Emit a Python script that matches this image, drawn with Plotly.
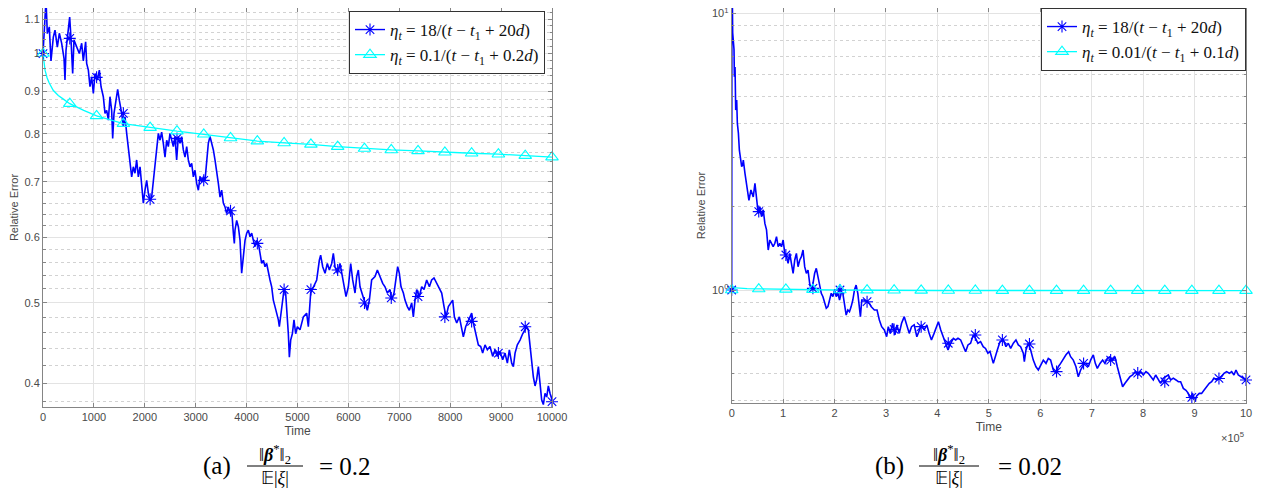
import plotly.graph_objects as go

# The page body adds an 8px margin; the figure is sized so that the whole page fits the 1261x496 window.
PAGE_OFF = 8
W, H = 1261 - 2 * PAGE_OFF, 496 - 2 * PAGE_OFF

# ---------------- panel (a): ||beta*||/E|xi| = 0.2 ----------------
blue_a_points = [
    (0, 1.0), (39, 1.097), (59, 1.16), (85, 1.057), (124, 1.077), (157, 0.98), (203, 1.047), (236, 1.067),
    (282, 1.018), (321, 1.058), (367, 1.029), (413, 0.987), (432, 0.929), (452, 1.009), (498, 1.077),
    (524, 1.107), (544, 1.058), (583, 0.946), (609, 1.038), (661, 1.018), (714, 1.0), (760, 1.029),
    (792, 0.98), (838, 1.033), (858, 0.973), (891, 0.955), (923, 0.912), (956, 0.937), (989, 0.895),
    (1022, 0.946), (1067, 0.929), (1107, 0.955), (1140, 0.912), (1185, 0.887), (1218, 0.847), (1251, 0.854),
    (1284, 0.831), (1316, 0.887), (1349, 0.854), (1369, 0.79), (1395, 0.847), (1434, 0.878), (1467, 0.905),
    (1500, 0.878), (1546, 0.847), (1578, 0.816), (1611, 0.839), (1644, 0.801), (1676, 0.772), (1709, 0.744),
    (1742, 0.71), (1775, 0.73), (1807, 0.717), (1840, 0.744), (1873, 0.71), (1906, 0.73), (1938, 0.69),
    (1971, 0.66), (2004, 0.684), (2037, 0.703), (2070, 0.678), (2102, 0.665), (2135, 0.671), (2168, 0.703),
    (2200, 0.73), (2233, 0.772), (2266, 0.801), (2299, 0.786), (2331, 0.804), (2364, 0.779), (2397, 0.75),
    (2430, 0.786), (2462, 0.772), (2495, 0.801), (2528, 0.786), (2561, 0.772), (2593, 0.794), (2626, 0.744),
    (2659, 0.794), (2692, 0.779), (2724, 0.794), (2757, 0.765), (2790, 0.75), (2823, 0.772), (2855, 0.744),
    (2888, 0.73), (2921, 0.737), (2954, 0.71), (2986, 0.723), (3019, 0.697), (3052, 0.684), (3085, 0.71),
    (3117, 0.7), (3150, 0.71), (3183, 0.703), (3216, 0.744), (3248, 0.779), (3281, 0.794), (3314, 0.779),
    (3347, 0.765), (3379, 0.744), (3412, 0.723), (3445, 0.697), (3478, 0.671), (3510, 0.684), (3543, 0.66),
    (3576, 0.653), (3609, 0.641), (3641, 0.653), (3674, 0.641), (3707, 0.647), (3740, 0.607), (3759, 0.59),
    (3772, 0.612), (3805, 0.629), (3838, 0.618), (3871, 0.595), (3903, 0.543), (3936, 0.574), (3969, 0.595),
    (4002, 0.607), (4034, 0.612), (4067, 0.601), (4100, 0.607), (4133, 0.595), (4165, 0.585), (4198, 0.595),
    (4231, 0.59), (4264, 0.574), (4296, 0.558), (4329, 0.563), (4362, 0.553), (4394, 0.558), (4427, 0.543),
    (4460, 0.533), (4493, 0.523), (4525, 0.504), (4558, 0.495), (4591, 0.486), (4624, 0.477), (4643, 0.468),
    (4669, 0.481), (4702, 0.5), (4735, 0.519), (4767, 0.514), (4800, 0.486), (4820, 0.459), (4840, 0.43),
    (4866, 0.451), (4899, 0.459), (4931, 0.477), (4964, 0.459), (4997, 0.468), (5049, 0.464), (5115, 0.481),
    (5180, 0.486), (5213, 0.468), (5259, 0.514), (5311, 0.523), (5377, 0.533), (5429, 0.563), (5455, 0.571),
    (5495, 0.553), (5541, 0.543), (5586, 0.558), (5626, 0.548), (5672, 0.558), (5704, 0.574), (5737, 0.553),
    (5783, 0.543), (5835, 0.558), (5868, 0.543), (5914, 0.528), (5953, 0.509), (5999, 0.523), (6045, 0.558),
    (6084, 0.533), (6130, 0.514), (6163, 0.538), (6195, 0.548), (6228, 0.523), (6281, 0.509), (6327, 0.5),
    (6372, 0.49), (6412, 0.504), (6457, 0.533), (6523, 0.538), (6569, 0.548), (6621, 0.538), (6674, 0.528),
    (6719, 0.523), (6765, 0.514), (6818, 0.519), (6850, 0.504), (6896, 0.514), (6936, 0.538), (6968, 0.553),
    (7001, 0.543), (7034, 0.523), (7080, 0.514), (7112, 0.504), (7158, 0.495), (7198, 0.49), (7243, 0.5),
    (7276, 0.481), (7309, 0.504), (7342, 0.519), (7394, 0.509), (7440, 0.523), (7486, 0.519), (7538, 0.533),
    (7591, 0.523), (7636, 0.533), (7682, 0.536), (7735, 0.528), (7787, 0.519), (7833, 0.514), (7879, 0.495),
    (7918, 0.481), (7964, 0.495), (8010, 0.5), (8049, 0.504), (8082, 0.481), (8128, 0.473), (8180, 0.481),
    (8226, 0.464), (8258, 0.455), (8304, 0.468), (8357, 0.477), (8422, 0.486), (8455, 0.473), (8507, 0.459),
    (8553, 0.445), (8599, 0.443), (8638, 0.435), (8684, 0.445), (8730, 0.439), (8782, 0.443), (8835, 0.431),
    (8881, 0.439), (8926, 0.431), (8979, 0.437), (9031, 0.427), (9077, 0.435), (9123, 0.423), (9162, 0.439),
    (9208, 0.423), (9241, 0.419), (9274, 0.435), (9319, 0.445), (9372, 0.451), (9424, 0.459), (9470, 0.464),
    (9503, 0.468), (9536, 0.464), (9568, 0.443), (9601, 0.427), (9634, 0.407), (9667, 0.397), (9699, 0.404),
    (9732, 0.419), (9765, 0.4), (9797, 0.382), (9830, 0.377), (9863, 0.389), (9896, 0.385), (9928, 0.397),
    (9961, 0.389), (10000, 0.382),
]
cyan_a_points = [
    (0, 1.0), (15, 0.975), (40, 0.955), (80, 0.935), (120, 0.922), (200, 0.903), (300, 0.89), (400, 0.881),
    (526, 0.870), (800, 0.854), (1053, 0.841), (1579, 0.823), (2105, 0.814), (2632, 0.806), (3158, 0.799),
    (3684, 0.791), (4211, 0.784), (4737, 0.780), (5263, 0.777), (5789, 0.772), (6316, 0.768), (6842, 0.765),
    (7368, 0.763), (7895, 0.760), (8421, 0.758), (8947, 0.756), (9474, 0.753), (10000, 0.750),
]
mark_time_a = [0, 526, 1053, 1579, 2105, 2632, 3158, 3684, 4211, 4737,
               5263, 5789, 6316, 6842, 7368, 7895, 8421, 8947, 9474, 10000]
mark_blue_a = [1.0, 1.043, 0.936, 0.847, 0.667, 0.79, 0.703, 0.646, 0.59, 0.519,
               0.519, 0.548, 0.5, 0.507, 0.509, 0.481, 0.475, 0.435, 0.468, 0.38]
mark_cyan_a = [1.0, 0.870, 0.841, 0.823, 0.814, 0.806, 0.799, 0.791, 0.784, 0.780,
               0.777, 0.772, 0.768, 0.765, 0.763, 0.760, 0.758, 0.756, 0.753, 0.750]
legend_a = ["<i>η<sub>t</sub></i> = 18/(<i>t</i> − <i>t</i><sub>1</sub> + 20<i>d</i>)",
            "<i>η<sub>t</sub></i> = 0.1/(<i>t</i> − <i>t</i><sub>1</sub> + 0.2<i>d</i>)"]
xticks_a = [0, 1000, 2000, 3000, 4000, 5000, 6000, 7000, 8000, 9000, 10000]
xticktext_a = ["0", "1000", "2000", "3000", "4000", "5000", "6000", "7000", "8000", "9000", "10000"]
yticks_a = [0.4, 0.5, 0.6, 0.7, 0.8, 0.9, 1.0, 1.1]
yticktext_a = ["0.4", "0.5", "0.6", "0.7", "0.8", "0.9", "1", "1.1"]
yminor_a = [0.38, 0.42, 0.44, 0.46, 0.48, 0.52, 0.54, 0.56, 0.58, 0.62, 0.64, 0.66, 0.68,
            0.72, 0.74, 0.76, 0.78, 0.82, 0.84, 0.86, 0.88, 0.92, 0.94, 0.96, 0.98,
            1.02, 1.04, 1.06, 1.08, 1.12, 1.14]

# ---------------- panel (b): ||beta*||/E|xi| = 0.02 (time in units of 1e5) ----------------
blue_b_points = [
    (0, 1.0), (0.004, 16.0), (0.019, 8.5), (0.045, 7.4), (0.052, 5.9), (0.065, 6.4), (0.078, 4.47),
    (0.097, 4.86), (0.11, 4.0), (0.13, 3.69), (0.149, 3.2), (0.175, 2.95), (0.194, 2.79), (0.214, 2.85),
    (0.226, 2.95), (0.258, 2.64), (0.29, 2.43), (0.335, 2.11), (0.374, 2.30), (0.419, 2.17), (0.452, 2.43),
    (0.484, 2.11), (0.516, 1.89), (0.548, 2.0), (0.58, 1.84), (0.613, 1.95), (0.645, 1.74), (0.677, 1.65),
    (0.71, 1.395), (0.742, 1.516), (0.774, 1.475), (0.806, 1.434), (0.839, 1.475), (0.871, 1.558),
    (0.903, 1.434), (0.935, 1.475), (0.968, 1.434), (1.0, 1.516), (1.032, 1.357), (1.065, 1.32),
    (1.097, 1.249), (1.129, 1.357), (1.161, 1.249), (1.194, 1.149), (1.226, 1.284), (1.258, 1.357),
    (1.29, 1.214), (1.323, 1.284), (1.355, 1.32), (1.387, 1.395), (1.419, 1.214), (1.452, 1.149),
    (1.484, 1.181), (1.516, 1.057), (1.548, 1.0), (1.581, 1.057), (1.613, 1.149), (1.645, 1.198),
    (1.677, 1.117), (1.71, 1.028), (1.742, 0.973), (1.774, 0.946), (1.806, 0.907), (1.839, 0.859),
    (1.871, 0.871), (1.903, 0.920), (1.935, 0.973), (1.968, 0.946), (2.0, 1.0), (2.032, 0.946),
    (2.065, 0.973), (2.097, 0.920), (2.129, 0.973), (2.161, 0.973), (2.194, 0.871), (2.226, 0.812),
    (2.258, 0.847), (2.29, 0.835), (2.323, 0.871), (2.355, 0.920), (2.387, 1.0), (2.419, 1.042),
    (2.452, 0.973), (2.484, 0.871), (2.503, 0.801), (2.529, 0.920), (2.58, 0.920), (2.632, 0.907),
    (2.677, 0.895), (2.71, 0.871), (2.774, 0.847), (2.826, 0.847), (2.871, 0.779), (2.916, 0.737),
    (2.968, 0.717), (3.013, 0.678), (3.045, 0.737), (3.084, 0.697), (3.129, 0.758), (3.174, 0.688),
    (3.213, 0.748), (3.258, 0.697), (3.303, 0.758), (3.355, 0.801), (3.4, 0.748), (3.452, 0.697),
    (3.497, 0.737), (3.548, 0.748), (3.6, 0.678), (3.645, 0.717), (3.69, 0.748), (3.742, 0.717),
    (3.794, 0.748), (3.839, 0.697), (3.884, 0.660), (3.935, 0.697), (3.987, 0.737), (4.019, 0.768),
    (4.065, 0.717), (4.116, 0.678), (4.161, 0.642), (4.206, 0.607), (4.258, 0.642), (4.31, 0.669),
    (4.355, 0.660), (4.4, 0.669), (4.452, 0.660), (4.503, 0.624), (4.548, 0.598), (4.594, 0.633),
    (4.645, 0.642), (4.697, 0.688), (4.742, 0.669), (4.787, 0.642), (4.839, 0.651), (4.89, 0.624),
    (4.935, 0.615), (4.981, 0.591), (5.022, 0.60), (5.087, 0.543), (5.119, 0.574), (5.165, 0.607),
    (5.216, 0.650), (5.281, 0.660), (5.333, 0.624), (5.378, 0.642), (5.424, 0.615), (5.476, 0.642),
    (5.527, 0.660), (5.573, 0.633), (5.618, 0.624), (5.67, 0.591), (5.69, 0.551), (5.722, 0.607),
    (5.767, 0.642), (5.813, 0.607), (5.864, 0.558), (5.916, 0.528), (5.962, 0.514), (6.007, 0.535),
    (6.059, 0.558), (6.111, 0.543), (6.156, 0.566), (6.201, 0.558), (6.253, 0.514), (6.305, 0.501),
    (6.35, 0.528), (6.396, 0.543), (6.448, 0.566), (6.5, 0.583), (6.551, 0.598), (6.59, 0.574),
    (6.642, 0.558), (6.694, 0.528), (6.739, 0.486), (6.785, 0.514), (6.837, 0.535), (6.888, 0.543),
    (6.934, 0.528), (6.979, 0.558), (7.031, 0.583), (7.07, 0.543), (7.109, 0.521), (7.161, 0.543),
    (7.212, 0.558), (7.258, 0.543), (7.303, 0.566), (7.355, 0.574), (7.407, 0.558), (7.452, 0.574),
    (7.498, 0.528), (7.549, 0.486), (7.601, 0.447), (7.647, 0.460), (7.692, 0.473), (7.744, 0.486),
    (7.796, 0.493), (7.848, 0.507), (7.899, 0.493), (7.951, 0.507), (8.003, 0.493), (8.055, 0.507),
    (8.1, 0.500), (8.146, 0.486), (8.198, 0.473), (8.243, 0.493), (8.295, 0.473), (8.34, 0.460),
    (8.392, 0.480), (8.444, 0.486), (8.489, 0.493), (8.535, 0.473), (8.586, 0.480), (8.638, 0.473),
    (8.684, 0.466), (8.729, 0.466), (8.781, 0.441), (8.833, 0.434), (8.878, 0.423), (8.91, 0.406),
    (8.962, 0.423), (9.008, 0.395), (9.04, 0.414), (9.092, 0.423), (9.137, 0.423), (9.183, 0.434),
    (9.235, 0.447), (9.286, 0.460), (9.332, 0.466), (9.377, 0.480), (9.429, 0.473), (9.481, 0.480),
    (9.526, 0.486), (9.572, 0.500), (9.623, 0.507), (9.675, 0.500), (9.721, 0.507), (9.766, 0.493),
    (9.805, 0.514), (9.85, 0.493), (9.896, 0.486), (9.947, 0.480), (10.0, 0.473),
]
cyan_b_points = [
    (0, 1.0), (0.02, 1.02), (0.3, 1.012), (1.0, 1.005), (2.0, 1.0), (4.0, 0.996), (10.0, 0.995),
]
mark_time_b = [0, 0.526, 1.053, 1.579, 2.105, 2.632, 3.158, 3.684, 4.211, 4.737,
               5.263, 5.789, 6.316, 6.842, 7.368, 7.895, 8.421, 8.947, 9.474, 10.0]
mark_blue_b = [1.0, 1.92, 1.338, 1.014, 1.0, 0.907, 0.72, 0.737, 0.642, 0.688,
               0.660, 0.638, 0.507, 0.543, 0.558, 0.501, 0.466, 0.409, 0.479, 0.473]
mark_cyan_b = [1.0, 1.008, 1.005, 1.003, 1.0, 0.999, 0.998, 0.997, 0.996, 0.996,
               0.995, 0.995, 0.995, 0.995, 0.995, 0.995, 0.995, 0.995, 0.995, 0.995]
legend_b = ["<i>η<sub>t</sub></i> = 18/(<i>t</i> − <i>t</i><sub>1</sub> + 20<i>d</i>)",
            "<i>η<sub>t</sub></i> = 0.01/(<i>t</i> − <i>t</i><sub>1</sub> + 0.1<i>d</i>)"]
xticks_b = [0, 1, 2, 3, 4, 5, 6, 7, 8, 9, 10]
yticks_b = [1, 10]
yticktext_b = ["10<sup>0</sup>", "10<sup>1</sup>"]
yminor_b = [0.4, 0.5, 0.6, 0.7, 0.8, 0.9, 2, 3, 4, 5, 6, 7, 8, 9]

BLUE = "rgb(0,0,255)"
CYAN = "rgb(0,255,255)"
AXC = "#858585"
TXT = "#4a4a4a"
GRID = "#e3e3e3"
MGRID = "#d2d2d2"
SANS = "Liberation Sans, Arial, sans-serif"
SERIF = "Liberation Serif, Times New Roman, serif"


def px(x):
    """window pixel x -> paper fraction"""
    return (x - PAGE_OFF) / W


def py(y):
    """window pixel y -> paper fraction (clamped to the figure)"""
    return min(1.0, max(0.0, 1 - (y - PAGE_OFF) / H))


fig = go.Figure()


def add_panel(xa, ya, leg, blue_pts, cyan_pts, mt, mb, mc, labels):
    bx, by = zip(*blue_pts)
    cx, cy = zip(*cyan_pts)
    common = dict(xaxis=xa, yaxis=ya)
    fig.add_trace(go.Scatter(x=bx, y=by, mode="lines", line=dict(color=BLUE, width=1.6),
                             showlegend=False, hoverinfo="skip", **common))
    fig.add_trace(go.Scatter(x=cx, y=cy, mode="lines", line=dict(color=CYAN, width=1.3),
                             showlegend=False, hoverinfo="skip", **common))
    fig.add_trace(go.Scatter(x=mt, y=mb, mode="markers", cliponaxis=False,
                             marker=dict(symbol="asterisk-open", size=10, color=BLUE,
                                         line=dict(color=BLUE, width=1.1)),
                             showlegend=False, **common))
    fig.add_trace(go.Scatter(x=mt, y=mc, mode="markers", cliponaxis=False,
                             marker=dict(symbol="triangle-up-open", size=11, color=CYAN,
                                         line=dict(color=CYAN, width=1.1)),
                             showlegend=False, **common))
    # legend entries
    fig.add_trace(go.Scatter(x=[None], y=[None], mode="lines+markers", name=labels[0], legend=leg,
                             line=dict(color=BLUE, width=1.4),
                             marker=dict(symbol="asterisk-open", size=10, color=BLUE,
                                         line=dict(color=BLUE, width=1.1)), **common))
    fig.add_trace(go.Scatter(x=[None], y=[None], mode="lines+markers", name=labels[1], legend=leg,
                             line=dict(color=CYAN, width=1.3),
                             marker=dict(symbol="triangle-up-open", size=11, color=CYAN,
                                         line=dict(color=CYAN, width=1.1)), **common))


add_panel("x", "y", "legend", blue_a_points, cyan_a_points, mark_time_a, mark_blue_a, mark_cyan_a, legend_a)
add_panel("x2", "y2", "legend2", blue_b_points, cyan_b_points, mark_time_b, mark_blue_b, mark_cyan_b, legend_b)

axis_common = dict(showline=True, linecolor=AXC, linewidth=1, mirror="ticks", ticks="inside",
                   ticklen=4, tickcolor=AXC, showgrid=True, gridcolor=GRID, gridwidth=1, zeroline=False,
                   automargin=False, ticklabeloverflow="allow",
                   tickfont=dict(family=SANS, size=11, color=TXT))

fig.update_layout(
    width=W, height=H, margin=dict(l=0, r=0, t=0, b=0, autoexpand=False),
    paper_bgcolor="white", plot_bgcolor="white",
    xaxis=dict(domain=[px(43), px(552)], range=[0, 10000], tickmode="array", tickvals=xticks_a,
               ticktext=xticktext_a,
               title=dict(text="Time", font=dict(family=SANS, size=12, color=TXT), standoff=4),
               anchor="y", **axis_common),
    yaxis=dict(domain=[py(407), 1.0], type="log", range=[-0.4266, 0.0550], tickmode="array",
               tickvals=yticks_a, ticktext=yticktext_a,
               minor=dict(tickmode="array", tickvals=yminor_a, ticks="inside", ticklen=2.5,
                          tickcolor=AXC, showgrid=True, gridcolor=MGRID, griddash="dot"),
               title=dict(text="Relative Error", font=dict(family=SANS, size=11, color=TXT), standoff=6),
               anchor="x", **axis_common),
    xaxis2=dict(domain=[px(731.7), px(1246)], range=[0, 10], tickmode="array", tickvals=xticks_b,
                title=dict(text="Time", font=dict(family=SANS, size=12, color=TXT), standoff=4),
                anchor="y2", **axis_common),
    yaxis2=dict(domain=[py(403), 1.0], type="log", range=[-0.4084, 1.0192], tickmode="array",
                tickvals=yticks_b, ticktext=yticktext_b,
                minor=dict(tickmode="array", tickvals=yminor_b, ticks="inside", ticklen=2.5,
                           tickcolor=AXC, showgrid=True, gridcolor=MGRID, griddash="dot"),
                title=dict(text="Relative Error", font=dict(family=SANS, size=11, color=TXT), standoff=4),
                anchor="x2", **axis_common),
    legend=dict(x=px(545), y=py(11), xanchor="right", yanchor="top", bgcolor="white",
                bordercolor="#333333", borderwidth=1, font=dict(family=SERIF, size=17, color="#111111"),
                itemwidth=30, tracegroupgap=0),
    legend2=dict(x=px(1246), y=py(8), xanchor="right", yanchor="top", bgcolor="white",
                 bordercolor="#333333", borderwidth=1, font=dict(family=SERIF, size=17, color="#111111"),
                 itemwidth=30, tracegroupgap=0),
)

ann = []
shapes = []


def caption(label, cx_label, cx_frac, frac_half, cx_eq, eq_text):
    ann.append(dict(text=label, x=px(cx_label), y=py(466), xref="paper", yref="paper", showarrow=False,
                    font=dict(family=SERIF, size=25, color="black"), xanchor="center", yanchor="middle"))
    ann.append(dict(text="‖<b><i>β</i></b><sup>*</sup>‖<sub>2</sub>", x=px(cx_frac), y=py(454),
                    xref="paper", yref="paper", showarrow=False,
                    font=dict(family=SERIF, size=18, color="black"), xanchor="center", yanchor="middle"))
    ann.append(dict(text="𝔼|<i>ξ</i>|", x=px(cx_frac), y=py(478), xref="paper", yref="paper",
                    showarrow=False, font=dict(family=SERIF, size=18, color="black"),
                    xanchor="center", yanchor="middle"))
    ann.append(dict(text=eq_text, x=px(cx_eq), y=py(466), xref="paper", yref="paper", showarrow=False,
                    font=dict(family=SERIF, size=25, color="black"), xanchor="center", yanchor="middle"))
    shapes.append(dict(type="line", xref="paper", yref="paper", x0=px(cx_frac - frac_half),
                       x1=px(cx_frac + frac_half), y0=py(466), y1=py(466),
                       line=dict(color="black", width=1)))


caption("(a)", 217, 275, 28, 345, "= 0.2")
caption("(b)", 889, 949, 30, 1030, "= 0.02")

ann.append(dict(text="×10<sup>5</sup>", x=px(1246), y=py(437), xref="paper", yref="paper", showarrow=False,
                font=dict(family=SANS, size=11, color=TXT), xanchor="right", yanchor="middle"))

fig.update_layout(annotations=ann, shapes=shapes)

fig.write_html("out.html")
